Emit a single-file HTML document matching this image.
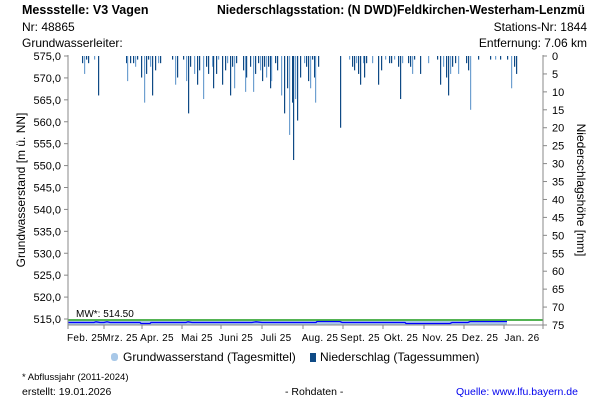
<!DOCTYPE html>
<html><head><meta charset="utf-8"><style>
body{margin:0;background:#fff;width:600px;height:400px;overflow:hidden;font-family:"Liberation Sans",sans-serif}
svg text{font-family:"Liberation Sans",sans-serif;fill:#000}
</style></head><body>
<svg id="s" width="600" height="400" xmlns="http://www.w3.org/2000/svg">
<text x="22" y="14" font-size="12.5" font-weight="bold">Messstelle: V3 Vagen</text>
<text x="217" y="14" font-size="12.5" font-weight="bold" textLength="368" lengthAdjust="spacingAndGlyphs">Niederschlagsstation: (N DWD)Feldkirchen-Westerham-Lenzmü</text>
<text x="22" y="31" font-size="12">Nr: 48865</text>
<text x="22" y="47" font-size="12">Grundwasserleiter:</text>
<text x="587" y="31" font-size="12" text-anchor="end">Stations-Nr: 1844</text>
<text x="587" y="47" font-size="12" text-anchor="end">Entfernung: 7.06 km</text>
<g id="bars"></g>
<rect x="68" y="321" width="439" height="4" fill="#a8c8e8"/>
<polyline fill="none" stroke="#0000ff" stroke-width="1.3" points="68,322.5 94,322.5 96,321.8 100,322.5 104,322.5 107,321.8 110,322.5 140,322.5 141,323.5 150,323.5 151,322.5 186,322.5 188,321.8 192,322.5 252,322.5 256,321.8 262,322.5 316,322.5 317,321.5 340,321.5 342,322.5 405,322.5 406,323.5 450,323.5 452,322.5 468,322.5 470,321.5 507,321.5"/>
<line x1="68" y1="320" x2="543" y2="320" stroke="#1a9a1a" stroke-width="1.5"/>
<text x="76" y="317" font-size="10">MW*: 514.50</text>
<line x1="68" y1="55" x2="68" y2="325" stroke="#888"/>
<line x1="543" y1="55" x2="543" y2="325" stroke="#888"/>
<line x1="68" y1="325" x2="543" y2="325" stroke="#888"/>
<g id="ax"></g>
<text transform="translate(25,190) rotate(-90)" font-size="12" text-anchor="middle">Grundwasserstand [m ü. NN]</text>
<text transform="translate(577,190) rotate(90)" font-size="12" text-anchor="middle">Niederschlagshöhe [mm]</text>
<g font-size="10" letter-spacing="0.3" text-anchor="middle">
<text x="85" y="341">Feb. 25</text><text x="120" y="341">Mrz. 25</text><text x="157" y="341">Apr. 25</text><text x="197" y="341">Mai 25</text><text x="236" y="341">Juni 25</text><text x="276" y="341">Juli 25</text><text x="320" y="341">Aug. 25</text><text x="360" y="341">Sept. 25</text><text x="401" y="341">Okt. 25</text><text x="440" y="341">Nov. 25</text><text x="480" y="341">Dez. 25</text><text x="522" y="341">Jan. 26</text>
</g>
<rect x="111" y="353" width="7" height="8" rx="3" fill="#a8c8e8"/>
<text x="123" y="361" font-size="12">Grundwasserstand (Tagesmittel)</text>
<rect x="310" y="353" width="6" height="9" fill="#0f4a85"/>
<text x="320" y="361" font-size="12">Niederschlag (Tagessummen)</text>
<text x="22" y="380" font-size="9.5">* Abflussjahr (2011-2024)</text>
<text x="22" y="395" font-size="10.5">erstellt:  19.01.2026</text>
<text x="285" y="395" font-size="10.5">- Rohdaten -</text>
<text x="456" y="395" font-size="10.5" style="fill:#0000ee">Quelle: www.lfu.bayern.de</text>
</svg>
<script>
var NS="http://www.w3.org/2000/svg",ax=document.getElementById('ax'),bars=document.getElementById('bars');
function el(p,t,a,tx){var e=document.createElementNS(NS,t);for(var k in a)e.setAttribute(k,a[k]);if(tx!==undefined)e.textContent=String(tx);p.appendChild(e);return e;}
for(var v=515;v<=575;v+=5){var y=319-(v-515)*263/60;el(ax,'line',{x1:64,x2:68,y1:y,y2:y,stroke:'#888'});el(ax,'text',{x:61,y:y+4,'font-size':11,'text-anchor':'end'},v.toFixed(1).replace('.',','));}
for(var m=0;m<=75;m+=5){var y=56+m*269/75;el(ax,'line',{x1:543,x2:547,y1:y,y2:y,stroke:'#888'});el(ax,'text',{x:552,y:y+4,'font-size':11},m);}
[68,104,142,182,221,262,303,343,383,424,464,504,543].forEach(function(x){el(ax,'line',{x1:x,x2:x,y1:325,y2:329,stroke:'#888'});});
var big=[[82,2],[84,5],[86,1],[88,2],[94,1],[98,11],[126,2],[127,7],[130,2],[133,2],[135,3],[137,1],[141,6],[144,13],[146,5],[148,1],[150,3],[152,11],[155,4],[158,2],[160,2],[172,1],[175,8],[177,6],[183,1],[186,7],[188,16],[190,3],[194,5],[197,8],[199,4],[203,12],[206,3],[208,5],[212,3],[213,9],[216,5],[218,1],[222,8],[225,4],[227,2],[230,11],[232,3],[234,9],[236,2],[243,4],[245,10],[246,6],[250,3],[253,10],[255,5],[258,2],[260,4],[262,7],[264,3],[266,6],[268,3],[270,9],[271,7],[275,2],[277,4],[281,11],[284,16],[287,9],[289,22],[292,13],[293,29],[295,12],[297,18],[300,6],[304,2],[306,3],[308,7],[310,9],[312,1],[314,6],[315,13],[318,3],[340,20],[349,1],[352,3],[354,4],[356,2],[358,5],[360,8],[363,2],[364,6],[366,2],[372,2],[378,8],[381,4],[385,1],[389,2],[391,2],[394,1],[398,3],[400,12],[402,2],[408,2],[410,3],[412,5],[414,1],[420,5],[428,2],[437,1],[440,8],[443,3],[446,6],[448,11],[450,5],[452,3],[455,2],[458,5],[466,2],[468,4],[470,15],[478,1],[490,1],[495,1],[500,1],[507,1],[511,9],[514,3],[516,5]];
big.forEach(function(b,i){var h=b[1]*269/75;el(bars,'rect',{x:b[0],y:56,width:1.2,height:h,fill:(i%3==1?'#6fa0d0':'#0f4a85')});});
</script>
</body></html>
